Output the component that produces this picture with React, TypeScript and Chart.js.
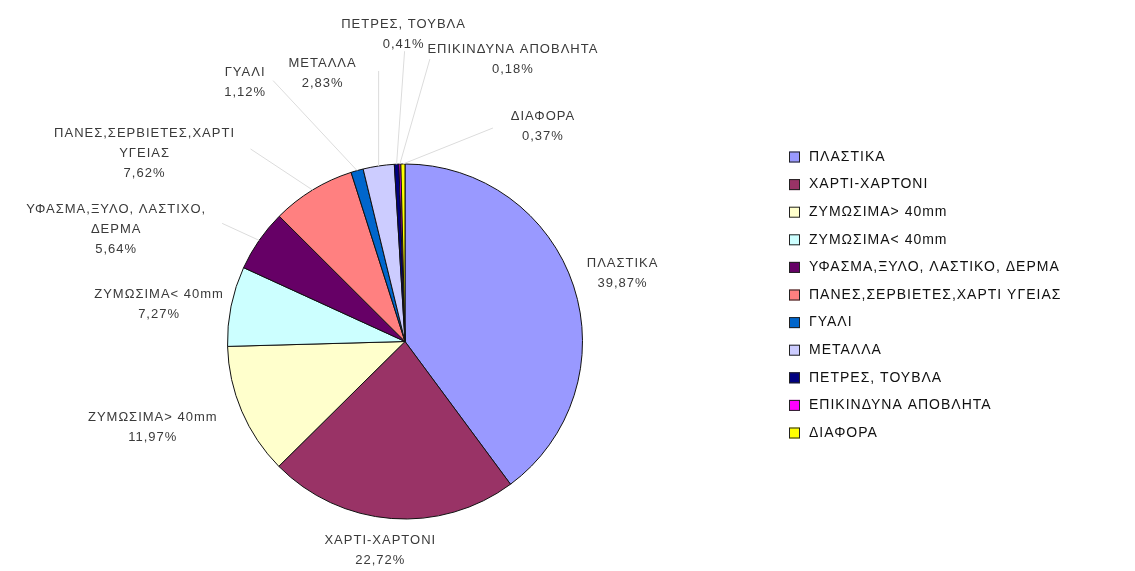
import React, { useEffect, useRef } from "react";
import { Chart, registerables } from "chart.js";

Chart.register(...registerables);

// ---- data ----
const categories = [
  "ΠΛΑΣΤΙΚΑ",
  "ΧΑΡΤΙ-ΧΑΡΤΟΝΙ",
  "ΖΥΜΩΣΙΜΑ> 40mm",
  "ΖΥΜΩΣΙΜΑ< 40mm",
  "ΥΦΑΣΜΑ,ΞΥΛΟ, ΛΑΣΤΙΚΟ, ΔΕΡΜΑ",
  "ΠΑΝΕΣ,ΣΕΡΒΙΕΤΕΣ,ΧΑΡΤΙ ΥΓΕΙΑΣ",
  "ΓΥΑΛΙ",
  "ΜΕΤΑΛΛΑ",
  "ΠΕΤΡΕΣ, ΤΟΥΒΛΑ",
  "ΕΠΙΚΙΝΔΥΝΑ ΑΠΟΒΛΗΤΑ",
  "ΔΙΑΦΟΡΑ",
];
const values = [39.87, 22.72, 11.97, 7.27, 5.64, 7.62, 1.12, 2.83, 0.41, 0.18, 0.37];
const pieLabelText = [
  ["ΠΛΑΣΤΙΚΑ"],
  ["ΧΑΡΤΙ-ΧΑΡΤΟΝΙ"],
  ["ΖΥΜΩΣΙΜΑ> 40mm"],
  ["ΖΥΜΩΣΙΜΑ< 40mm"],
  ["ΥΦΑΣΜΑ,ΞΥΛΟ, ΛΑΣΤΙΧΟ,", "ΔΕΡΜΑ"],
  ["ΠΑΝΕΣ,ΣΕΡΒΙΕΤΕΣ,ΧΑΡΤΙ", "ΥΓΕΙΑΣ"],
  ["ΓΥΑΛΙ"],
  ["ΜΕΤΑΛΛΑ"],
  ["ΠΕΤΡΕΣ, ΤΟΥΒΛΑ"],
  ["ΕΠΙΚΙΝΔΥΝΑ ΑΠΟΒΛΗΤΑ"],
  ["ΔΙΑΦΟΡΑ"],
];

// ---- styles / layout ----
const colors = [
  "#9999FF", "#993366", "#FFFFCC", "#CCFFFF", "#660066", "#FF8080",
  "#0066CC", "#CCCCFF", "#000080", "#FF00FF", "#FFFF00",
];
// label centre offset from the slice's outer mid-point
const labelOffsets: [number, number][] = [
  [49, -13], [-11, 32], [-89, 16], [-72, -2], [-143, -11], [-168, -37],
  [-112, -88], [-56, -93], [7, -130], [113, -105], [140, -38],
];
// leader line end relative to label centre (null = no line)
const leaderEnds: ([number, number] | null)[] = [
  null, null, null, null, [106, -6], [106, -4],
  [28, -2], [56, -2], [1, 17], [-83, 0], [-50, 2],
];

const FONT = "'Liberation Sans', Arial, sans-serif";

const labelPlugin = {
  id: "pieLabels",
  afterDatasetsDraw(chart: any) {
    const ctx = chart.ctx;
    const meta = chart.getDatasetMeta(0);
    ctx.save();
    meta.data.forEach((arc: any, i: number) => {
      const mid = (arc.startAngle + arc.endAngle) / 2;
      const R = arc.outerRadius;
      const px = arc.x + Math.cos(mid) * R;
      const py = arc.y + Math.sin(mid) * R;
      const [ox, oy] = labelOffsets[i];
      const lx = px + ox;
      const ly = py + oy;
      const le = leaderEnds[i];
      if (le) {
        ctx.strokeStyle = "#dcdcdc";
        ctx.lineWidth = 1;
        ctx.beginPath();
        ctx.moveTo(lx + le[0], ly + le[1]);
        ctx.lineTo(px, py);
        ctx.stroke();
      }
      const lines = [
        ...pieLabelText[i],
        values[i].toFixed(2).replace(".", ",") + "%",
      ];
      const lh = 20;
      ctx.fillStyle = "#3a3a3a";
      ctx.font = `13px ${FONT}`;
      (ctx as any).letterSpacing = "1px";
      ctx.textAlign = "center";
      ctx.textBaseline = "middle";
      const top = ly - ((lines.length - 1) * lh) / 2;
      lines.forEach((t, k) => ctx.fillText(t, lx, top + k * lh));
    });
    ctx.restore();
  },
};

const legendPlugin = {
  id: "sideLegend",
  afterDraw(chart: any) {
    const ctx = chart.ctx;
    const labels = chart.data.labels as string[];
    const bg = chart.data.datasets[0].backgroundColor as string[];
    const x0 = 789;
    const y0 = 157;
    const step = 27.6;
    ctx.save();
    ctx.font = `14px ${FONT}`;
    (ctx as any).letterSpacing = "1px";
    ctx.textAlign = "left";
    ctx.textBaseline = "middle";
    labels.forEach((lab, i) => {
      const y = y0 + i * step;
      ctx.fillStyle = bg[i];
      ctx.fillRect(x0, y - 5.5, 11, 11);
      ctx.strokeStyle = "#222";
      ctx.lineWidth = 1;
      ctx.strokeRect(x0 + 0.5, y - 5, 10, 10);
      ctx.fillStyle = "#111";
      ctx.fillText(lab, x0 + 20, y);
    });
    ctx.restore();
  },
};

export default function App() {
  const ref = useRef<HTMLCanvasElement>(null);
  useEffect(() => {
    if (!ref.current) return;
    const chart = new Chart(ref.current, {
      type: "pie",
      data: {
        labels: categories,
        datasets: [
          {
            data: values,
            backgroundColor: colors,
            borderColor: "#111",
            borderWidth: 1,
          },
        ],
      },
      options: {
        responsive: false,
        animation: false,
        devicePixelRatio: 1,
        layout: { padding: { left: 227, top: 163, right: 552, bottom: 51 } },
        plugins: {
          legend: { display: false },
          tooltip: { enabled: false },
        },
      },
      plugins: [labelPlugin, legendPlugin],
    });
    return () => chart.destroy();
  }, []);
  return (
    <div style={{ position: "fixed", left: 0, top: 0, width: 1135, height: 571, background: "#fff" }}>
      <canvas ref={ref} width={1135} height={571} />
    </div>
  );
}
